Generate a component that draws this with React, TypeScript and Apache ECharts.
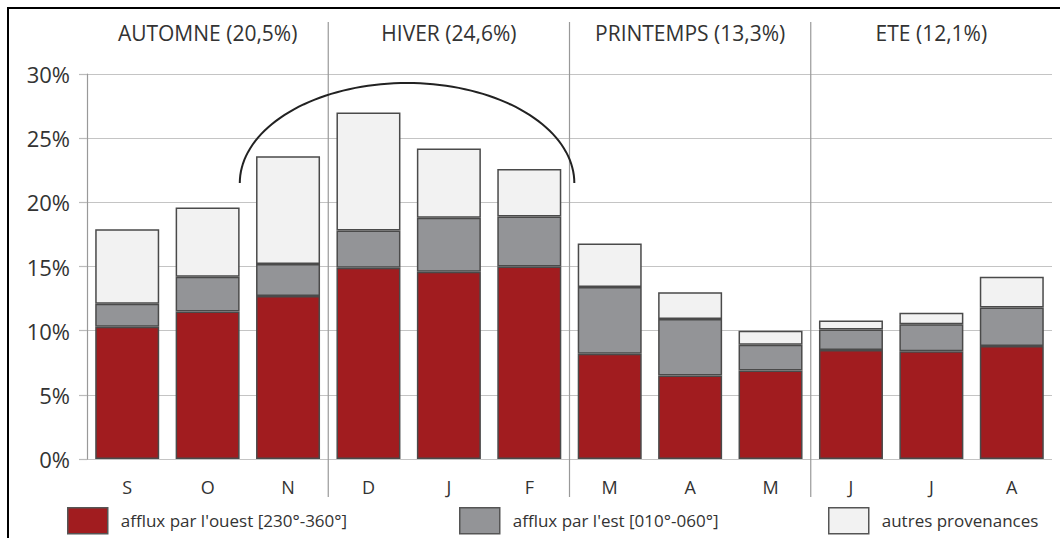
import React, { useEffect, useRef } from "react";
import * as echarts from "echarts";

const months = ["S", "O", "N", "D", "J", "F", "M", "A", "M", "J", "J", "A"];
const seasons = ["AUTOMNE (20,5%)", "HIVER (24,6%)", "PRINTEMPS (13,3%)", "ETE (12,1%)"];
const seriesNames = [
  "afflux par l'ouest [230°-360°]",
  "afflux par l'est [010°-060°]",
  "autres provenances",
];
const ouest = [10.3, 11.5, 12.7, 14.9, 14.6, 15.0, 8.2, 6.5, 6.9, 8.5, 8.4, 8.8];
const est = [1.8, 2.7, 2.5, 2.9, 4.2, 3.9, 5.2, 4.4, 2.0, 1.6, 2.1, 3.0];
const autres = [5.8, 5.4, 8.4, 9.2, 5.4, 3.7, 3.4, 2.1, 1.1, 0.7, 0.9, 2.4];
const yMin = 0;
const yMax = 30;
const yStep = 5;

const colors = ["#A11C1F", "#939497", "#F2F2F2"];
const FONT = "'Open Sans', 'DejaVu Sans', sans-serif";

export default function App() {
  const ref = useRef<HTMLDivElement>(null);
  useEffect(() => {
    const chart = echarts.init(ref.current!, null, { renderer: "svg" });
    const legendPos = [67, 459, 828];
    const option: any = {
      animation: false,
      textStyle: { fontFamily: FONT },
      grid: { left: 87, right: 8, top: 74, bottom: 79, containLabel: false },
      legend: seriesNames.map((n, i) => ({
        data: [n],
        left: legendPos[i],
        top: 507,
        padding: 0,
        itemWidth: 40,
        itemHeight: 26,
        selectedMode: false,
        icon: "rect",
        itemStyle: { borderColor: "#555", borderWidth: 1.5 },
        textStyle: { fontSize: 17, color: "#333", fontFamily: FONT, padding: [0, 0, 0, 8] },
      })),
      xAxis: [
        {
          type: "category",
          data: months,
          axisLine: { show: false },
          axisTick: { show: false },
          axisLabel: { interval: 0, fontSize: 18, color: "#333", margin: 19, fontFamily: FONT },
        },
        {
          type: "category",
          data: seasons,
          position: "top",
          axisLine: { show: false },
          axisTick: { show: false },
          axisLabel: { interval: 0, fontSize: 21, color: "#333", margin: 31, fontFamily: FONT },
        },
      ],
      yAxis: {
        type: "value",
        min: yMin,
        max: yMax,
        interval: yStep,
        axisLine: { show: true, lineStyle: { color: "#999", width: 1.2 } },
        axisTick: { show: true, length: 8, lineStyle: { color: "#bbb", width: 1.2 } },
        splitLine: { lineStyle: { color: "#c4c4c4", width: 1.2 } },
        axisLabel: { fontSize: 22, color: "#333", margin: 17, formatter: "{value}%", fontFamily: FONT },
      },
      series: [ouest, est, autres].map((d, i) => ({
        name: seriesNames[i],
        type: "bar",
        stack: "total",
        xAxisIndex: 0,
        barWidth: 64,
        data: d,
        itemStyle: { color: colors[i], borderColor: "#4a4a4a", borderWidth: 1.5 },
      })),
    };
    chart.setOption(option);

    const px = (i: number) => chart.convertToPixel({ xAxisIndex: 0 }, i) as number;
    const py = (v: number) => chart.convertToPixel({ yAxisIndex: 0 }, v) as number;
    const band = px(1) - px(0);
    const seps = [3, 6, 9].map((i) => (px(i - 1) + px(i)) / 2);

    const xl = px(2) - 0.6 * band;
    const xr = px(5) + 0.56 * band;
    const yb = py(21.5);
    const yp = py(29.3);
    const cx = (xl + xr) / 2;
    const rx = (xr - xl) / 2;
    const ry = yb - yp;
    const pts: number[][] = [];
    for (let k = 0; k <= 80; k++) {
      const t = (Math.PI * k) / 80;
      pts.push([cx - rx * Math.cos(t), yb - ry * Math.sin(t)]);
    }

    chart.setOption({
      graphic: [
        ...seps.map((x) => ({
          type: "line",
          shape: { x1: x, y1: 22, x2: x, y2: 497 },
          style: { stroke: "#999", lineWidth: 1.2 },
          z: 1,
        })),
        {
          type: "polyline",
          shape: { points: pts },
          style: { stroke: "#222", lineWidth: 2, fill: null },
          z: 10,
        },
        { type: "line", shape: { x1: 7, y1: 8, x2: 1060, y2: 8 }, style: { stroke: "#000", lineWidth: 2 } },
        { type: "line", shape: { x1: 8, y1: 7, x2: 8, y2: 538 }, style: { stroke: "#000", lineWidth: 2 } },
      ],
    });
    return () => chart.dispose();
  }, []);
  return (
    <div
      ref={ref}
      style={{ position: "fixed", left: 0, top: 0, width: 1060, height: 538, background: "#fff" }}
    />
  );
}
